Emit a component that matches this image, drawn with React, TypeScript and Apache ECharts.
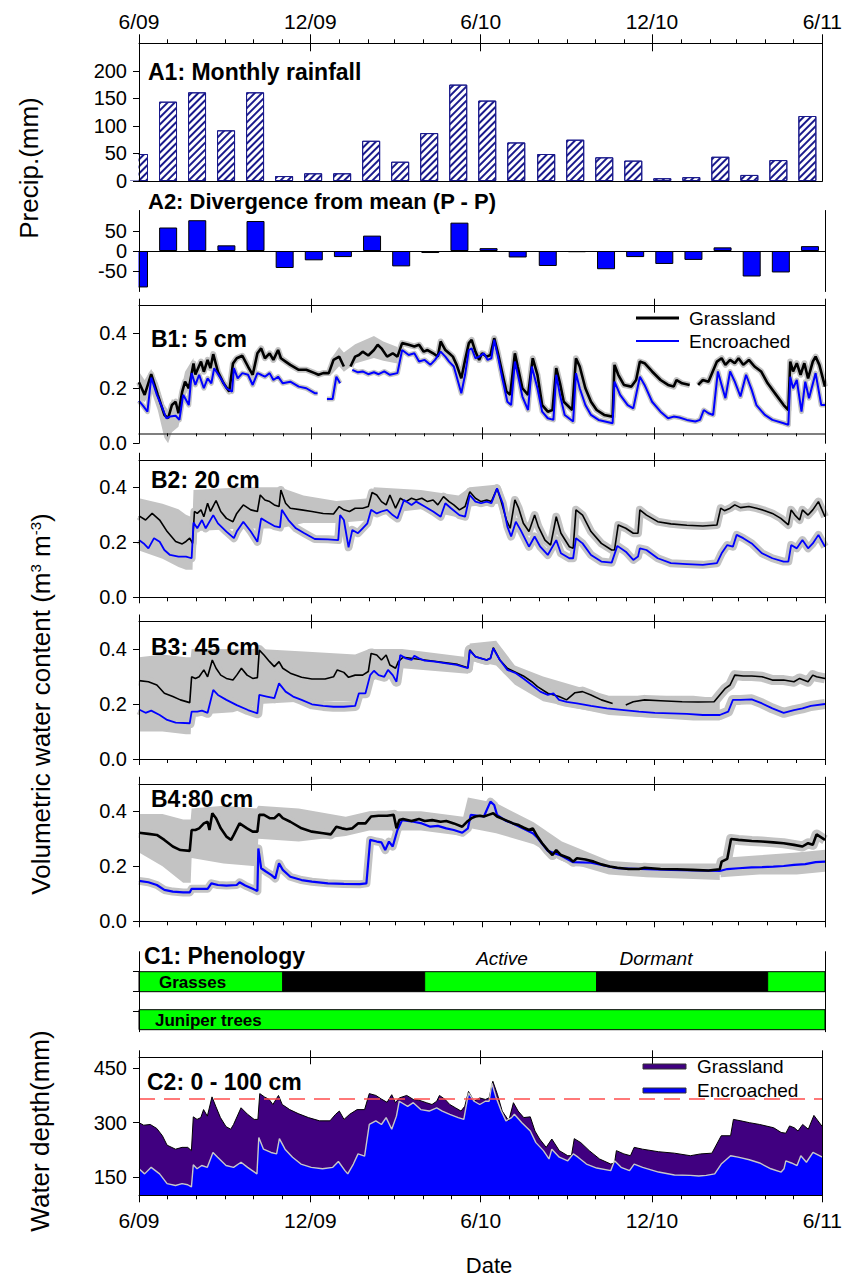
import { useEffect, useRef } from 'react';
import * as echarts from 'echarts';

const FONT = "'Liberation Sans', Arial, Helvetica, sans-serif";

// ---------- axis ticks (days since 1 June 2009) ----------
const monthTicks = [0, 30, 61, 92, 122, 153, 183, 214, 245, 273, 304, 334, 365, 395, 426, 457, 487, 518, 548, 579, 610, 638, 669, 699, 730];
const majorTicks = [0, 183, 365, 548, 730];
const majorLabels = ['6/09', '12/09', '6/10', '12/10', '6/11'];

// ---------- A: rainfall ----------
const rainDays = [0, 31, 62, 93, 124, 155, 186, 217, 248, 279, 310, 341, 372, 403, 435, 466, 497, 528, 559, 590, 621, 652, 683, 714];
const rainfall = [49, 144, 161, 92, 161, 9, 14, 14, 73, 35, 87, 175, 146, 70, 49, 75, 43, 37, 5, 7, 44, 11, 38, 118];
const divergence = [-90, 58, 76, 14, 74, -42, -23, -15, 38, -38, -5, 70, 7, -16, -37, -3, -45, -15, -32, -22, 9, -63, -53, 12];

// ---------- B1: 5 cm ----------
const b1Grass = [[0,0.222],[6,0.176],[13,0.251],[20,0.176],[27,0.103],[31,0.091],[35,0.139],[39,0.151],[42,0.109],[46,0.188],[49,0.224],[53,0.2],[58,0.29],[60,0.25],[66,0.297],[69,0.26],[73,0.303],[76,0.273],[79,0.324],[84,0.26],[90,0.218],[96,0.188],[100,0.29],[104,0.309],[110,0.318],[116,0.279],[121,0.249],[126,0.327],[130,0.345],[134,0.309],[139,0.327],[143,0.303],[148,0.339],[151,0.309],[156,0.297],[161,0.285],[170,0.267],[178,0.267],[187,0.255],[191,0.249],[196,0.255],[202,0.255],[207,0.303],[213,0.315],[218,0.279],[221,null],[225,0.279],[230,0.315],[234,0.321],[238,0.333],[244,0.319],[250,0.339],[254,0.358],[258,0.345],[264,0.315],[270,0.327],[275,0.315],[280,0.364],[287,0.358],[293,0.352],[298,0.358],[303,0.333],[307,0.339],[313,0.327],[318,0.315],[321,0.37],[326,0.339],[330,0.327],[334,0.315],[338,0.285],[343,0.236],[347,0.303],[351,0.364],[354,0.376],[358,0.333],[362,0.303],[365,0.327],[370,0.315],[374,0.321],[378,0.382],[382,0.327],[387,0.249],[391,0.188],[395,0.176],[400,0.327],[403,0.279],[408,0.2],[414,0.176],[419,0.309],[424,0.249],[429,0.139],[435,0.115],[440,0.121],[444,0.273],[448,0.218],[452,0.151],[461,0.121],[465,0.309],[469,0.279],[475,0.2],[481,0.151],[487,0.121],[495,0.103],[504,0.097],[506,0.285],[510,0.249],[516,0.212],[524,0.206],[529,0.23],[533,0.297],[538,0.291],[546,0.261],[555,0.23],[563,0.212],[569,0.206],[572,0.23],[578,0.218],[586,0.212],[590,null],[595,0.212],[600,0.23],[606,0.224],[615,0.297],[620,0.309],[624,0.285],[629,0.303],[634,0.291],[638,0.309],[643,0.285],[649,0.303],[655,0.279],[662,0.261],[669,0.218],[678,0.176],[686,0.139],[691,0.121],[693,0.297],[696,0.261],[700,0.291],[704,0.249],[708,0.291],[712,0.236],[717,0.297],[720,0.315],[724,0.285],[730,0.206]];
const b1Enc = [[0,0.154],[5,0.133],[9,0.115],[13,0.239],[19,0.176],[25,0.127],[29,0.091],[33,0.097],[39,0.1],[43,0.085],[47,0.176],[50,0.158],[53,0.139],[56,0.255],[60,0.212],[64,0.249],[69,0.2],[73,0.236],[77,0.218],[80,0.273],[87,0.236],[93,0.2],[99,0.188],[101,0.273],[105,0.236],[110,0.255],[116,0.249],[121,0.212],[126,0.255],[130,0.249],[134,0.242],[139,0.255],[143,0.23],[148,0.242],[153,0.218],[161,0.224],[170,0.206],[178,0.2],[187,0.182],[190,0.182],[195,null],[200,0.161],[206,0.161],[210,0.242],[214,0.218],[220,null],[227,0.267],[233,0.258],[238,0.261],[244,0.251],[250,0.258],[255,0.251],[261,0.261],[267,0.249],[275,0.255],[280,0.339],[287,0.321],[293,0.327],[298,0.297],[304,0.303],[310,0.285],[315,0.303],[321,0.333],[326,0.315],[330,0.297],[335,0.279],[343,0.182],[347,0.249],[351,0.339],[354,0.345],[358,0.309],[362,0.315],[367,0.327],[371,0.303],[375,0.309],[378,0.376],[382,0.315],[387,0.23],[392,0.151],[396,0.139],[400,0.297],[404,0.236],[408,0.17],[414,0.121],[418,0.279],[424,0.2],[429,0.115],[435,0.091],[441,0.085],[444,0.249],[448,0.176],[453,0.103],[462,0.079],[465,0.255],[469,0.2],[475,0.139],[481,0.103],[489,0.085],[504,0.073],[506,0.224],[512,0.176],[520,0.139],[526,0.127],[533,0.242],[538,0.212],[546,0.151],[555,0.115],[563,0.091],[569,0.097],[575,0.094],[583,0.085],[592,0.079],[597,0.085],[601,0.121],[606,0.109],[611,0.103],[616,0.261],[620,0.212],[624,0.164],[629,0.261],[634,0.224],[640,0.17],[646,0.249],[652,0.194],[657,0.139],[666,0.103],[674,0.085],[686,0.073],[691,0.067],[693,0.242],[696,0.2],[700,0.23],[705,0.115],[709,0.224],[713,0.164],[720,0.255],[726,0.139],[730,0.139]];
const b1Band = [[0,0.16,0.26],[6,0.15,0.23],[13,0.19,0.27],[20,0.12,0.22],[27,0.02,0.14],[31,0.0,0.12],[35,0.04,0.16],[42,0.06,0.15],[49,0.17,0.26],[58,0.24,0.31],[60,null,null],[205,0.25,0.31],[213,0.28,0.35],[218,0.26,0.33],[230,0.29,0.36],[250,0.31,0.39],[260,0.30,0.37],[275,0.29,0.35]];

// ---------- B2: 20 cm ----------
const b2Grass = [[0,0.296],[7,0.281],[14,0.305],[22,0.281],[30,0.239],[39,0.203],[46,0.194],[50,0.203],[54,0.215],[57,0.196],[59,0.312],[62,0.305],[66,0.318],[69,0.293],[73,0.342],[76,0.312],[82,0.352],[87,0.312],[93,0.287],[100,0.275],[104,0.305],[111,0.336],[119,0.318],[126,0.312],[129,0.372],[134,0.354],[139,0.348],[144,0.336],[149,0.33],[151,0.39],[156,0.342],[161,0.324],[173,0.318],[184,0.312],[196,0.305],[207,0.303],[213,0.33],[218,0.318],[224,0.312],[230,0.324],[238,0.324],[244,0.33],[248,0.381],[253,0.372],[258,0.348],[263,0.336],[267,0.372],[273,0.324],[278,0.36],[284,0.348],[290,0.36],[295,0.354],[301,0.36],[307,0.348],[313,0.354],[318,0.336],[324,0.366],[330,0.348],[335,0.336],[341,0.318],[347,0.33],[352,0.384],[358,0.36],[364,0.348],[370,0.354],[375,0.348],[381,0.396],[385,0.354],[391,0.281],[395,0.251],[400,0.354],[404,0.324],[409,0.269],[415,0.239],[421,0.299],[425,0.257],[432,0.208],[438,0.19],[444,0.293],[449,0.233],[458,0.184],[462,0.178],[465,0.318],[472,0.299],[481,0.239],[492,0.196],[503,0.172],[506,0.172],[510,0.263],[518,0.251],[526,0.233],[531,0.233],[533,0.318],[540,0.299],[552,0.275],[566,0.267],[583,0.262],[600,0.259],[615,0.263],[619,0.324],[623,0.315],[629,0.324],[634,0.336],[640,0.326],[649,0.33],[657,0.324],[666,0.315],[674,0.305],[683,0.287],[691,0.263],[694,0.318],[698,0.299],[703,0.281],[706,0.318],[712,0.299],[717,0.318],[723,0.348],[730,0.293]];
const b2Enc = [[0,0.208],[5,0.196],[10,0.178],[16,0.215],[22,0.202],[27,0.172],[33,0.154],[42,0.148],[50,0.148],[56,0.142],[58,0.272],[62,0.251],[67,0.281],[71,0.251],[79,0.299],[84,0.269],[93,0.239],[101,0.215],[104,0.239],[111,0.275],[119,0.239],[126,0.202],[130,0.287],[136,0.275],[144,0.259],[150,0.254],[152,0.318],[159,0.281],[167,0.251],[176,0.233],[187,0.212],[201,0.211],[212,0.208],[214,0.299],[218,0.281],[223,0.182],[227,0.245],[233,0.233],[238,0.251],[243,0.269],[247,0.318],[253,0.305],[258,0.312],[264,0.318],[270,0.299],[275,0.287],[282,0.354],[290,0.336],[295,0.348],[304,0.33],[313,0.312],[321,0.293],[326,0.342],[332,0.324],[341,0.299],[347,0.293],[352,0.372],[358,0.348],[364,0.342],[370,0.348],[375,0.342],[381,0.396],[387,0.342],[392,0.257],[396,0.221],[401,0.275],[406,0.245],[415,0.184],[421,0.221],[427,0.184],[435,0.154],[444,0.208],[449,0.16],[458,0.142],[462,0.142],[465,0.215],[472,0.196],[481,0.154],[492,0.13],[503,0.126],[509,0.187],[518,0.166],[526,0.136],[531,0.148],[533,0.178],[540,0.172],[552,0.142],[566,0.124],[583,0.121],[600,0.118],[615,0.124],[620,0.16],[626,0.19],[632,0.184],[636,0.227],[643,0.215],[652,0.196],[663,0.16],[674,0.142],[686,0.13],[691,0.13],[694,0.19],[700,0.178],[706,0.208],[712,0.178],[717,0.196],[723,0.227],[730,0.184]];
const b2Band = [[0,0.17,0.36],[25,0.14,0.34],[42,0.11,0.32],[50,0.10,0.30],[57,0.10,0.29],[58,0.24,0.39],[110,0.25,0.40],[150,0.25,0.40],[175,0.27,0.37],[210,0.27,0.35],[245,0.28,0.36],[250,0.30,0.40],[300,0.32,0.39],[340,0.29,0.37],[352,0.33,0.40],[382,0.34,0.41],[388,0.30,0.37]];

// ---------- B3: 45 cm ----------
const b3Grass = [[0,0.285],[10,0.281],[19,0.269],[27,0.239],[36,0.227],[44,0.215],[54,0.205],[56,0.299],[60,0.293],[64,0.299],[69,0.324],[73,0.299],[78,0.36],[82,0.33],[87,0.305],[93,0.293],[100,0.287],[104,0.305],[109,0.33],[115,0.305],[121,0.293],[126,0.296],[128,0.396],[133,0.378],[139,0.354],[144,0.336],[149,0.354],[153,0.33],[161,0.312],[173,0.297],[184,0.291],[198,0.291],[207,0.299],[211,0.324],[218,0.315],[223,0.297],[230,0.305],[238,0.305],[244,0.318],[247,0.384],[253,0.378],[258,0.36],[263,0.378],[267,0.342],[273,0.33],[276,0.354],[281,0.37],[304,0.36],[339,0.344],[350,0.332],[352,0.397],[358,0.372],[370,0.36],[374,0.366],[377,0.405],[384,0.36],[392,0.33],[409,0.302],[418,0.281],[424,0.263],[435,0.239],[447,0.227],[455,0.215],[464,0.241],[472,0.245],[481,0.233],[492,0.215],[504,0.202],[510,null],[518,0.196],[526,0.208],[538,0.215],[555,0.212],[578,0.208],[595,0.207],[612,0.208],[618,0.233],[624,0.257],[629,0.269],[634,0.305],[643,0.302],[652,0.302],[663,0.299],[674,0.287],[686,0.287],[697,0.281],[703,0.293],[712,0.281],[717,0.305],[721,0.299],[730,0.293]];
const b3Enc = [[0,0.18],[7,0.168],[13,0.176],[22,0.16],[30,0.142],[39,0.132],[54,0.13],[56,0.172],[62,0.172],[67,0.176],[73,0.168],[79,0.251],[84,0.233],[93,0.215],[104,0.196],[116,0.178],[126,0.166],[128,0.233],[136,0.227],[144,0.221],[149,0.275],[156,0.245],[164,0.227],[173,0.215],[184,0.199],[196,0.193],[207,0.19],[218,0.19],[230,0.193],[234,0.239],[241,0.239],[246,0.305],[250,0.321],[255,0.305],[261,0.299],[265,0.324],[270,0.305],[274,0.281],[278,0.378],[284,0.366],[290,0.36],[293,0.375],[298,0.366],[304,0.358],[315,0.354],[327,0.348],[338,0.342],[350,0.33],[352,0.394],[358,0.372],[364,0.366],[370,0.36],[374,0.366],[377,0.402],[384,0.36],[392,0.324],[401,0.312],[409,0.293],[418,0.269],[427,0.245],[435,0.233],[441,0.239],[447,0.215],[455,0.208],[466,0.202],[481,0.193],[498,0.184],[516,0.178],[532,0.172],[549,0.168],[566,0.166],[583,0.164],[600,0.16],[618,0.16],[627,0.172],[632,0.215],[640,0.215],[652,0.217],[663,0.202],[674,0.184],[686,0.168],[697,0.178],[706,0.184],[715,0.193],[730,0.2]];
const b3Band = [[0,0.10,0.37],[25,0.10,0.38],[50,0.09,0.37],[55,0.09,0.37],[56,0.16,0.40],[100,0.17,0.40],[128,0.20,0.40],[180,0.21,0.39],[230,0.21,0.38],[245,0.28,0.40],[280,0.33,0.40],[350,0.31,0.37],[352,0.36,0.42],[380,0.34,0.43],[400,0.27,0.34],[430,0.21,0.30],[500,0.16,0.23],[590,0.14,0.23],[618,0.14,0.22]];

// ---------- B4: 80 cm ----------
const b4Grass = [[0,0.322],[10,0.318],[19,0.314],[27,0.296],[36,0.272],[44,0.259],[54,0.256],[56,0.332],[60,0.332],[64,0.338],[69,0.356],[73,0.362],[75,0.332],[78,0.393],[82,0.375],[87,0.338],[93,0.308],[98,0.296],[101,0.315],[107,0.356],[115,0.338],[121,0.326],[126,0.326],[128,0.387],[133,0.387],[139,0.375],[144,0.375],[149,0.39],[153,0.375],[161,0.362],[173,0.338],[184,0.326],[196,0.32],[204,0.316],[210,0.344],[216,0.338],[221,0.335],[227,0.338],[233,0.356],[241,0.356],[247,0.381],[255,0.384],[264,0.384],[271,0.387],[274,0.338],[277,0.368],[281,0.372],[290,0.365],[298,0.372],[304,0.365],[312,0.368],[321,0.362],[327,0.365],[335,0.356],[344,0.344],[350,0.365],[354,0.375],[358,0.381],[363,0.384],[367,0.381],[372,0.387],[377,0.393],[381,0.381],[390,0.368],[398,0.356],[404,0.35],[409,0.341],[415,0.332],[419,0.338],[424,0.308],[429,0.284],[435,0.259],[440,0.241],[444,0.259],[449,0.241],[458,0.229],[462,0.217],[466,0.229],[475,0.225],[484,0.217],[492,0.207],[501,0.199],[509,0.195],[521,0.19],[532,0.19],[538,0.195],[555,0.19],[572,0.189],[589,0.187],[606,0.185],[618,0.189],[620,0.217],[626,0.227],[630,0.299],[638,0.296],[652,0.292],[663,0.29],[675,0.287],[686,0.284],[697,0.278],[706,0.272],[712,0.284],[717,0.278],[721,0.316],[730,0.296]];
const b4Enc = [[0,0.147],[10,0.142],[19,0.132],[27,0.114],[36,0.108],[47,0.105],[54,0.105],[56,0.118],[64,0.118],[73,0.118],[77,0.138],[84,0.132],[93,0.13],[104,0.132],[107,0.142],[113,0.13],[121,0.118],[126,0.11],[127,0.265],[130,0.193],[135,0.181],[141,0.168],[145,0.156],[149,0.211],[153,0.187],[161,0.162],[173,0.15],[184,0.144],[201,0.138],[218,0.136],[235,0.135],[242,0.138],[246,0.296],[253,0.29],[258,0.287],[262,0.259],[266,0.29],[270,0.272],[275,0.332],[280,0.368],[292,0.362],[301,0.356],[310,0.344],[318,0.347],[327,0.338],[335,0.332],[344,0.322],[350,0.338],[353,0.387],[367,0.381],[374,0.435],[378,0.423],[381,0.387],[390,0.366],[398,0.356],[419,0.32],[424,0.304],[435,0.256],[449,0.239],[462,0.215],[481,0.213],[509,0.193],[566,0.187],[618,0.183],[626,0.19],[638,0.193],[652,0.196],[663,0.197],[675,0.199],[686,0.201],[697,0.205],[709,0.208],[720,0.215],[730,0.217]];
const b4Band = [[0,0.25,0.39],[25,0.20,0.39],[47,0.14,0.37],[55,0.14,0.37],[56,0.23,0.41],[90,0.21,0.42],[125,0.20,0.41],[127,0.30,0.42],[170,0.29,0.41],[220,0.31,0.38],[245,0.33,0.40],[300,0.33,0.40],[345,0.31,0.38],[350,0.34,0.45],[380,0.32,0.43],[420,0.28,0.36],[450,0.22,0.29],[500,0.17,0.22],[540,0.16,0.21],[618,0.15,0.21],[619,null,null],[619,0.16,0.23],[660,0.17,0.24],[700,0.17,0.25],[730,0.18,0.26]];

// ---------- C1: phenology (start day, end day, 1 = active / 0 = dormant) ----------
const grassPhases = [[0, 153, 1], [153, 304, 0], [304, 487, 1], [487, 669, 0], [669, 730, 1]];
const juniperPhases = [[0, 730, 1]];

// ---------- C2: 0-100 cm water depth (mm) ----------
const c2Grass = [[0,300],[5,293],[12,295],[19,284],[25,264],[30,238],[39,227],[46,232],[52,232],[56,223],[58,316],[62,309],[66,314],[69,336],[73,318],[78,371],[82,345],[87,314],[93,289],[98,282],[101,295],[109,341],[116,323],[123,309],[127,309],[129,380],[134,371],[139,364],[143,350],[149,375],[153,350],[161,336],[170,325],[181,314],[193,305],[204,305],[210,323],[214,332],[219,309],[225,323],[233,336],[241,336],[246,380],[253,375],[259,365],[265,356],[270,377],[274,355],[278,368],[286,375],[293,364],[299,362],[307,355],[313,350],[318,359],[321,375],[327,364],[332,350],[338,341],[344,332],[348,345],[352,386],[358,359],[364,368],[370,364],[374,368],[378,414],[383,377],[388,332],[395,305],[400,355],[405,332],[411,314],[418,316],[423,277],[428,255],[435,232],[441,255],[449,223],[458,209],[462,209],[465,256],[472,245],[481,223],[492,200],[504,186],[508,189],[510,223],[518,214],[525,209],[529,232],[538,227],[555,220],[572,216],[589,209],[600,214],[612,216],[622,264],[632,264],[635,309],[643,305],[652,300],[663,295],[678,286],[686,273],[691,271],[695,291],[700,286],[704,277],[709,295],[715,282],[721,320],[730,289]];
const c2Enc = [[0,173],[6,159],[13,177],[22,159],[30,132],[39,127],[46,132],[52,129],[56,123],[58,184],[62,173],[67,182],[73,177],[79,218],[84,205],[93,182],[101,177],[109,191],[116,177],[121,168],[126,159],[128,259],[133,227],[141,218],[147,214],[150,256],[156,227],[164,205],[173,186],[184,177],[196,173],[207,177],[213,193],[220,168],[223,159],[229,186],[234,214],[241,208],[246,295],[253,305],[259,295],[264,314],[270,282],[275,318],[278,359],[287,345],[293,355],[301,336],[310,332],[318,341],[324,332],[332,323],[341,314],[347,309],[352,382],[358,359],[364,350],[370,359],[374,359],[377,409],[381,373],[387,332],[392,305],[398,314],[401,323],[409,300],[418,277],[424,245],[432,223],[438,200],[441,227],[449,205],[458,195],[464,214],[469,205],[478,186],[489,175],[504,168],[508,195],[515,177],[524,168],[529,186],[538,177],[555,164],[572,156],[589,155],[598,153],[606,155],[615,159],[622,186],[632,209],[640,205],[652,198],[663,189],[675,173],[686,164],[689,173],[691,195],[697,189],[703,182],[707,209],[713,191],[720,218],[730,205]];
const thresholdMm = 365;

// ---------- layout ----------
const LEFT = 139;
const PLOT_W = 686;
const layout = [
  { top: 43.3, height: 137.7 },
  { top: 210.5, height: 81 },
  { top: 305.7, height: 137.6 },
  { top: 459.8, height: 137.5 },
  { top: 621.5, height: 137.5 },
  { top: 783.8, height: 137.5 },
  { top: 951.7, height: 80 },
  { top: 1057.3, height: 138 },
];

const BLUE = '#0000ff';
const GRAY = '#c3c3c3';
const NAVY = '#1a1a8c';

function splitBand(band: any[]) {
  const segs: any[][] = [];
  let cur: any[] = [];
  band.forEach((b) => {
    if (b[1] == null) {
      if (cur.length) segs.push(cur);
      cur = [];
    } else cur.push(b);
  });
  if (cur.length) segs.push(cur);
  return segs;
}

function buildOption() {
  const grid = layout.map((l) => ({ left: LEFT, width: PLOT_W, top: l.top, height: l.height }));
  const xAxis: any[] = [];
  const yAxis: any[] = [];
  const series: any[] = [];

  const addX = (g: number, position: string, o: any = {}) => {
    xAxis.push({
      type: 'value', gridIndex: g, position, min: 0, max: 730, offset: o.offset ?? 0, z: 20,
      splitLine: { show: false },
      axisLine: { show: !!o.line, onZero: !!o.onZero, lineStyle: { color: o.lineColor ?? '#000', width: o.lineWidth ?? 1 } },
      axisTick: o.ticks
        ? { show: true, customValues: o.ticks, length: o.tickLen ?? 6, inside: !!o.inside, lineStyle: { color: '#000', width: 1 } }
        : { show: false },
      axisLabel: o.labels
        ? {
            show: true, customValues: majorTicks,
            formatter: (v: number) => majorLabels[majorTicks.indexOf(Math.round(v))] ?? '',
            fontSize: 21, fontFamily: FONT, color: '#000', margin: o.labelMargin ?? 10,
          }
        : { show: false },
    });
    return xAxis.length - 1;
  };
  const addY = (g: number, position: string, min: number, max: number, o: any = {}) => {
    yAxis.push({
      type: 'value', gridIndex: g, position, min, max, z: 20,
      splitLine: { show: false },
      axisLine: { show: true, onZero: false, lineStyle: { color: '#000', width: 1 } },
      axisTick: o.ticks ? { show: true, customValues: o.ticks, length: 6, lineStyle: { color: '#000' } } : { show: false },
      axisLabel: o.labels
        ? { show: true, customValues: o.ticks, formatter: o.fmt, fontSize: 20, fontFamily: FONT, color: '#000', margin: 12 }
        : { show: false },
    });
    return yAxis.length - 1;
  };
  const topFrame = (g: number) => {
    addX(g, 'top', { line: true, ticks: majorTicks, tickLen: 7 });
    addX(g, 'top', { ticks: majorTicks, tickLen: 7, inside: true });
  };
  const fmt1 = (v: number) => v.toFixed(1);
  const fmt0 = (v: number) => String(Math.round(v));

  // A1
  const xA1 = addX(0, 'bottom', { line: true });
  addX(0, 'top', { line: true, ticks: majorTicks, tickLen: 9, labels: true, labelMargin: 11 });
  addX(0, 'top', { ticks: majorTicks, tickLen: 8, inside: true });
  addX(0, 'top', { ticks: monthTicks, tickLen: 4 });
  const yA1 = addY(0, 'left', 0, 250, { ticks: [0, 50, 100, 150, 200], labels: true, fmt: fmt0 });
  addY(0, 'right', 0, 250);

  // A2
  const xA2 = addX(1, 'bottom', { line: true, onZero: true });
  const yA2 = addY(1, 'left', -100, 100, { ticks: [-50, 0, 50], labels: true, fmt: fmt0 });
  addY(1, 'right', -100, 100);

  // B panels
  const bX: number[] = [];
  const bY: number[] = [];
  for (let k = 0; k < 4; k++) {
    const g = 2 + k;
    if (k === 0) {
      bX.push(addX(g, 'bottom', { line: true, lineColor: '#555', lineWidth: 1.5, offset: -10, ticks: majorTicks, tickLen: 6 }));
      addX(g, 'bottom', { offset: -10, ticks: majorTicks, tickLen: 6, inside: true });
      addX(g, 'bottom', { offset: -10, ticks: monthTicks, tickLen: 3 });
    } else {
      bX.push(addX(g, 'bottom', { line: true, ticks: majorTicks, tickLen: 6 }));
      addX(g, 'bottom', { ticks: monthTicks, tickLen: 4 });
    }
    topFrame(g);
    bY.push(addY(g, 'left', 0, 0.5, { ticks: [0, 0.2, 0.4], labels: true, fmt: fmt1 }));
    addY(g, 'right', 0, 0.5);
  }

  // C1
  const xC1 = addX(6, 'bottom', {});
  const yC1 = addY(6, 'left', 0, 4, { ticks: [1, 2, 3] });
  addY(6, 'right', 0, 4);

  // C2
  const xC2 = addX(7, 'bottom', { line: true, ticks: majorTicks, tickLen: 7, labels: true, labelMargin: 15 });
  addX(7, 'bottom', { ticks: monthTicks, tickLen: 4 });
  topFrame(7);
  const yC2 = addY(7, 'left', 100, 480, { ticks: [150, 300, 450], labels: true, fmt: fmt0 });
  addY(7, 'right', 100, 480);

  // ---- series ----
  series.push({
    type: 'bar', xAxisIndex: xA1, yAxisIndex: yA1, barWidth: 18,
    data: rainDays.map((d, i) => [d, rainfall[i]]),
    itemStyle: {
      color: '#ffffff', borderColor: NAVY, borderWidth: 1,
      decal: { symbol: 'rect', symbolSize: 1, color: NAVY, dashArrayX: [1, 0], dashArrayY: [1.4, 3], rotation: -Math.PI / 4 },
    },
  });
  series.push({
    type: 'bar', xAxisIndex: xA2, yAxisIndex: yA2, barWidth: 18,
    data: rainDays.map((d, i) => [d, divergence[i]]),
    itemStyle: { color: BLUE, borderColor: '#000', borderWidth: 1 },
  });

  const panels = [
    { grass: b1Grass, enc: b1Enc, band: b1Band, gw: 2.6, ew: 2, gu: 6, eu: 5, blackOnTop: false },
    { grass: b2Grass, enc: b2Enc, band: b2Band, gw: 1.6, ew: 1.8, gu: 8, eu: 8, blackOnTop: false },
    { grass: b3Grass, enc: b3Enc, band: b3Band, gw: 1.6, ew: 1.8, gu: 10, eu: 10, blackOnTop: false },
    { grass: b4Grass, enc: b4Enc, band: b4Band, gw: 2.6, ew: 2.2, gu: 10, eu: 8, blackOnTop: true },
  ];
  panels.forEach((p, k) => {
    const ax = { xAxisIndex: bX[k], yAxisIndex: bY[k] };
    const segs = splitBand(p.band);
    series.push({
      type: 'custom', ...ax, silent: true, clip: true,
      data: segs.map((_s, i) => [i]),
      encode: { x: 0, y: 0 },
      renderItem: (_params: any, api: any) => {
        const seg = segs[api.value(0)];
        const upper = seg.map((b: any) => api.coord([b[0], b[2]]));
        const lower = seg.map((b: any) => api.coord([b[0], b[1]])).reverse();
        return { type: 'polygon', shape: { points: upper.concat(lower) }, style: { fill: GRAY, stroke: 'none' } };
      },
    });
    const common = { type: 'line', symbol: 'none', silent: true, connectNulls: false, ...ax };
    series.push({ ...common, data: p.grass, lineStyle: { color: GRAY, width: p.gu, join: 'round' } });
    series.push({ ...common, data: p.enc, lineStyle: { color: GRAY, width: p.eu, join: 'round' } });
    const g = { ...common, data: p.grass, lineStyle: { color: '#000', width: p.gw } };
    const e = { ...common, data: p.enc, lineStyle: { color: BLUE, width: p.ew } };
    if (p.blackOnTop) series.push(e, g);
    else series.push(g, e);
  });

  // C1
  const phenoData = [
    ...grassPhases.map((p) => [p[0], p[1], 0, p[2]]),
    ...juniperPhases.map((p) => [p[0], p[1], 1, p[2]]),
  ];
  series.push({
    type: 'custom', xAxisIndex: xC1, yAxisIndex: yC1, silent: true,
    encode: { x: [0, 1], y: 2 },
    data: phenoData,
    renderItem: (_params: any, api: any) => {
      const row = api.value(2);
      const yTop = row === 0 ? 3 : 1.1;
      const yBot = row === 0 ? 2 : 0.1;
      const p0 = api.coord([api.value(0), yTop]);
      const p1 = api.coord([api.value(1), yBot]);
      return {
        type: 'rect',
        shape: { x: p0[0], y: p0[1], width: p1[0] - p0[0], height: p1[1] - p0[1] },
        style: { fill: api.value(3) === 1 ? '#00ff00' : '#000000', stroke: '#000', lineWidth: 1 },
      };
    },
  });

  // C2
  series.push({
    type: 'line', xAxisIndex: xC2, yAxisIndex: yC2, symbol: 'none', silent: true,
    data: c2Grass, lineStyle: { color: '#000', width: 1 },
    areaStyle: { color: '#400080', opacity: 1, origin: 'start' },
  });
  series.push({
    type: 'line', xAxisIndex: xC2, yAxisIndex: yC2, symbol: 'none', silent: true,
    data: c2Enc, lineStyle: { color: '#c8c8c8', width: 1.4 },
    areaStyle: { color: BLUE, opacity: 1, origin: 'start' },
  });
  series.push({
    type: 'line', xAxisIndex: xC2, yAxisIndex: yC2, symbol: 'none', silent: true, z: 5,
    data: [],
    markLine: {
      silent: true, symbol: ['none', 'none'], label: { show: false }, animation: false,
      lineStyle: { color: '#ff4d4d', type: [16, 9], width: 1.5, opacity: 1 },
      data: [{ yAxis: thresholdMm, lineStyle: { color: '#ff4d4d', type: [16, 9], width: 1.5 } }],
    },
  });

  // ---- texts ----
  const T = (x: number, y: number, text: string, o: any = {}) => ({
    type: 'text', x, y, z: 100, silent: true, rotation: o.rotation ?? 0,
    style: {
      text, fill: '#000', fontFamily: FONT, fontSize: o.size ?? 23, fontWeight: o.bold ? 'bold' : 'normal',
      fontStyle: o.italic ? 'italic' : 'normal', align: o.align ?? 'left', verticalAlign: 'middle',
      rich: o.rich,
    },
  });

  const graphic: any[] = [
    // masks that trim the half-bar sticking out left of the plot edge
    { type: 'rect', z: 10, silent: true, shape: { x: 127, y: 44, width: 11.5, height: 136.5 }, style: { fill: '#fff' } },
    { type: 'rect', z: 10, silent: true, shape: { x: 127, y: 211, width: 11.5, height: 81 }, style: { fill: '#fff' } },
    T(148, 72, 'A1: Monthly rainfall', { bold: true }),
    T(148, 201, 'A2: Divergence from mean (P - P)', { bold: true, size: 22 }),
    T(151, 339, 'B1: 5 cm', { bold: true }),
    T(151, 480, 'B2: 20 cm', { bold: true }),
    T(151, 647, 'B3: 45 cm', { bold: true }),
    T(151, 799, 'B4:80 cm', { bold: true }),
    T(144, 956, 'C1: Phenology', { bold: true }),
    T(502, 958, 'Active', { italic: true, size: 19, align: 'center' }),
    T(656, 958, 'Dormant', { italic: true, size: 19, align: 'center' }),
    T(159, 982, 'Grasses', { bold: true, size: 17 }),
    T(155, 1020, 'Juniper trees', { bold: true, size: 17 }),
    T(147, 1082, 'C2: 0 - 100 cm', { bold: true }),
    T(489, 1265, 'Date', { align: 'center', size: 22 }),
    T(29, 168, 'Precip.(mm)', { align: 'center', size: 26, rotation: Math.PI / 2 }),
    T(40, 1131, 'Water depth(mm)', { align: 'center', size: 26, rotation: Math.PI / 2 }),
    T(41, 704, '{n|Volumetric water content (m}{s|3}{n| m}{s|-3}{n|)}', {
      align: 'center', size: 26, rotation: Math.PI / 2,
      rich: { n: { fontSize: 26, fontFamily: FONT }, s: { fontSize: 15, fontFamily: FONT, verticalAlign: 'top' } },
    }),
    // B1 legend
    { type: 'line', z: 100, silent: true, shape: { x1: 636, y1: 318, x2: 679, y2: 318 }, style: { stroke: '#000', lineWidth: 3 } },
    { type: 'line', z: 100, silent: true, shape: { x1: 636, y1: 341, x2: 679, y2: 341 }, style: { stroke: BLUE, lineWidth: 2 } },
    T(689, 318, 'Grassland', { size: 19 }),
    T(689, 341, 'Encroached', { size: 19 }),
    // C2 legend
    { type: 'rect', z: 100, silent: true, shape: { x: 643, y: 1064, width: 43, height: 5 }, style: { fill: '#400080', stroke: '#333', lineWidth: 1 } },
    { type: 'rect', z: 100, silent: true, shape: { x: 643, y: 1088, width: 43, height: 5 }, style: { fill: BLUE, stroke: '#333', lineWidth: 1 } },
    T(697, 1066, 'Grassland', { size: 19 }),
    T(697, 1090, 'Encroached', { size: 19 }),
  ];

  return {
    animation: false,
    backgroundColor: '#ffffff',
    textStyle: { fontFamily: FONT },
    grid, xAxis, yAxis, series, graphic,
  };
}

export default function App() {
  const ref = useRef<HTMLDivElement>(null);
  useEffect(() => {
    const chart = echarts.init(ref.current as HTMLDivElement, undefined, { renderer: 'svg', width: 845, height: 1276 });
    chart.setOption(buildOption() as any);
    return () => chart.dispose();
  }, []);
  return <div ref={ref} style={{ position: 'absolute', left: 0, top: 0, width: 845, height: 1276 }} />;
}
